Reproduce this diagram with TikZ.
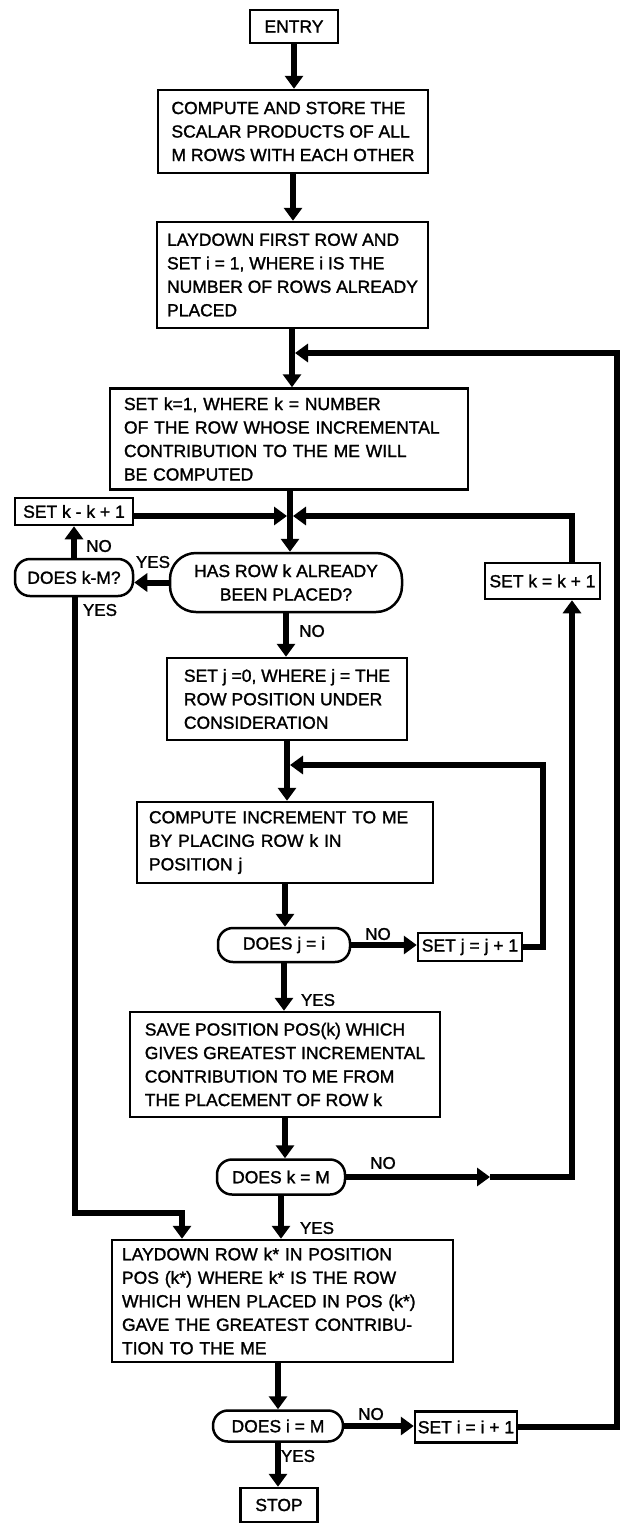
\documentclass[tikz,border=0pt]{standalone}
\usepackage{fontspec}
\setmainfont{Liberation Sans}[FakeBold=1.4]
\usetikzlibrary{arrows.meta}
\begin{document}
\begin{tikzpicture}[x=1pt,y=-1pt,
  every node/.style={font=\fontsize{17.5}{23.5}\selectfont},
  procbox/.style={draw, line width=2.5pt, fill=white, inner sep=0pt, align=left},
  termbox/.style={draw, line width=2.5pt, fill=white, inner sep=0pt, align=center},
  testbox/.style={draw, line width=2.5pt, fill=white, rounded corners=15pt, inner sep=0pt, align=center},
  flow/.style={line width=6pt, -{Triangle[length=13pt,width=18pt]}},
  answer/.style={inner sep=0pt, font=\fontsize{17}{17}\selectfont}
]
\useasboundingbox (0,0) rectangle (623,1524);

% ---- main column ----
\node[termbox, minimum width=88pt, minimum height=33pt] (entry) at (294,26.5) {ENTRY};
\node[procbox, minimum width=270pt, minimum height=83pt] (compute) at (293,131.5)
  {COMPUTE AND STORE THE\\SCALAR PRODUCTS OF ALL\\M ROWS WITH EACH OTHER};
\node[procbox, minimum width=271pt, minimum height=106pt] (lay1) at (292.5,275)
  {LAYDOWN FIRST ROW AND\\SET i = 1, WHERE i IS THE\\NUMBER OF ROWS ALREADY\\PLACED};
\node[procbox, inner xsep=14pt, text width=330pt, minimum height=101pt] (setk1) at (289,439)
  {SET k=1, WHERE k = NUMBER\\OF THE ROW WHOSE INCREMENTAL\\CONTRIBUTION TO THE ME WILL\\BE COMPUTED};
\node[testbox, rounded corners=26pt, minimum width=232pt, minimum height=59pt] (hasrow) at (286,582.5)
  {HAS ROW k ALREADY\\BEEN PLACED?};
\node[procbox, minimum width=240pt, minimum height=82pt] (setj0) at (287,699)
  {SET j =0, WHERE j = THE\\ROW POSITION UNDER\\CONSIDERATION};
\node[procbox, inner xsep=12pt, text width=272pt, minimum height=81pt] (cinc) at (285,842.5)
  {COMPUTE INCREMENT TO ME\\BY PLACING ROW k IN\\POSITION j};
\node[testbox, minimum width=132pt, minimum height=34pt] (doesji) at (284,945) {DOES j = i};
\node[procbox, minimum width=310pt, minimum height=105pt] (save) at (285,1064.5)
  {SAVE POSITION POS(k) WHICH\\GIVES GREATEST INCREMENTAL\\CONTRIBUTION TO ME FROM\\THE PLACEMENT OF ROW k};
\node[testbox, minimum width=128pt, minimum height=35pt] (doeskm) at (281,1177) {DOES k = M};
\node[procbox, inner xsep=10pt, text width=321pt, minimum height=122pt] (lay2) at (282.5,1301)
  {LAYDOWN ROW k* IN POSITION\\POS (k*) WHERE k* IS THE ROW\\WHICH WHEN PLACED IN POS (k*)\\GAVE THE GREATEST CONTRIBU-\\TION TO THE ME};
\node[testbox, minimum width=130pt, minimum height=31pt] (doesim) at (278,1426) {DOES i = M};
\node[termbox, minimum width=77pt, minimum height=34pt] (stop) at (279,1505) {STOP};

% ---- side boxes ----
\node[termbox, minimum width=118pt, minimum height=27pt] (setkl) at (74,511.5) {SET k - k + 1};
\node[testbox, minimum width=118pt, minimum height=37pt] (doeskl) at (74,577.5) {DOES k-M?};
\node[termbox, minimum width=115pt, minimum height=36pt] (setkr) at (542.5,581) {SET k = k + 1};
\node[termbox, minimum width=104pt, minimum height=28pt] (setjj) at (470,947) {SET j = j + 1};
\node[termbox, minimum width=102pt, minimum height=31pt] (setii) at (466,1427) {SET i = i + 1};

% ---- junctions and corners ----
\coordinate (j1) at (292,353);
\coordinate (j2) at (290,516);
\coordinate (j3) at (287,765);
\coordinate (rk) at (572,516);
\coordinate (rj) at (543,765);
\coordinate (ri) at (617,353);
\coordinate (mk) at (490,1177);
\coordinate (lk) at (75,1213);
\coordinate (lk2) at (182,1213);

% ---- connectors ----
\draw[flow] (entry.south) -- (entry.south |- compute.north);
\draw[flow] (compute.south) -- (compute.south |- lay1.north);
\draw[flow] (lay1.south -| j1) -- (j1 |- setk1.north);
\draw[flow] (setk1.south -| j2) -- (j2 |- hasrow.north);
\draw[flow] (setkl.east |- j2) -- ([xshift=-3pt]j2);
\draw[flow] (setkr.north -| rk) -- (rk) -- ([xshift=3pt]j2);
\draw[flow] (hasrow.west) -- (hasrow.west -| doeskl.east);
\draw[flow] (doeskl.north) -- (doeskl.north |- setkl.south);
\draw[flow] (doeskl.south -| lk) -- (lk) -- (lk2) -- (lk2 |- lay2.north);
\draw[flow] (hasrow.south) -- (hasrow.south |- setj0.north);
\draw[flow] (setj0.south -| j3) -- (j3 |- cinc.north);
\draw[flow] (cinc.south) -- (cinc.south |- doesji.north);
\draw[flow] (doesji.east) -- (doesji.east -| setjj.west);
\draw[flow] (setjj.east) -- (setjj.east -| rj) -- (rj) -- ([xshift=3pt]j3);
\draw[flow] (doesji.south) -- (doesji.south |- save.north);
\draw[flow] (save.south) -- (save.south |- doeskm.north);
\draw[flow] (doeskm.east) -- (doeskm.east -| mk);
\draw[flow] (doeskm.east -| mk) -- (doeskm.east -| rk) -- (rk |- setkr.south);
\draw[flow] (doeskm.south) -- (doeskm.south |- lay2.north);
\draw[flow] (doesim.north |- lay2.south) -- (doesim.north);
\draw[flow] (doesim.east) -- (doesim.east -| setii.west);
\draw[flow] (setii.east) -- (setii.east -| ri) -- (ri) -- ([xshift=3pt]j1);
\draw[flow] (doesim.south) -- (doesim.south |- stop.north);

% ---- branch labels ----
\node[answer] (noa) at (99,546) {NO};
\node[answer] (yesa) at (153,562) {YES};
\node[answer] (yesb) at (100,610) {YES};
\node[answer] (nob) at (312,631) {NO};
\node[answer] (noc) at (378,934) {NO};
\node[answer] (yesc) at (318,1000) {YES};
\node[answer] (nod) at (383,1163) {NO};
\node[answer] (yesd) at (317,1228) {YES};
\node[answer] (noe) at (371,1414) {NO};
\node[answer] (yese) at (298,1456) {YES};
\end{tikzpicture}
\end{document}
